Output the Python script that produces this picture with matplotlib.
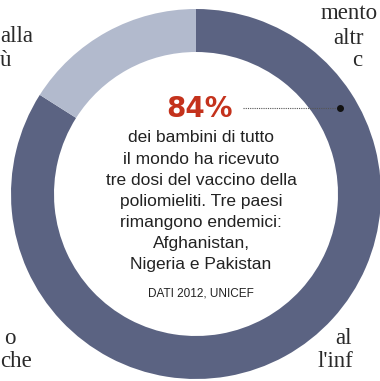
import matplotlib

matplotlib.use("Agg")
import matplotlib.pyplot as plt

# share of children with three polio vaccine doses (2012)
shares = [84, 16]
ring_colors = ["#5b6382", "#b2bacd"]
headline = "84%"
body_lines = [
    "dei bambini di tutto",
    "il mondo ha ricevuto",
    "tre dosi del vaccino della",
    "poliomieliti. Tre paesi",
    "rimangono endemici:",
    "Afghanistan,",
    "Nigeria e Pakistan",
]
source = "DATI 2012, UNICEF"

# fragments of the surrounding magazine column (x, baseline y in image pixels)
side_text = [
    ("alla", 0, 42),
    ("ù", 0, 66),
    ("mento", 321, 19),
    ("altr", 333, 44),
    ("c", 352, 66),
    ("o", 4, 344),
    ("che", 0, 367),
    ("al", 335, 344),
    ("l'inf", 318, 367),
]

W, H = 380, 381
fig = plt.figure(figsize=(W / 100, H / 100), dpi=100)
ax = fig.add_axes([0, 0, 1, 1])

cx, cy, r = 196, H - 194, 185
ax.pie(shares, colors=ring_colors, startangle=90, counterclock=False,
       center=(cx, cy), radius=r, wedgeprops=dict(width=43, linewidth=0))
ax.set_xlim(0, W)
ax.set_ylim(0, H)
ax.set_aspect("equal")
ax.axis("off")

sans = ["Liberation Sans", "DejaVu Sans"]
serif = ["Liberation Serif", "DejaVu Serif"]

ax.text(200, H - 109, headline, ha="center", va="center", fontsize=20,
        fontweight="bold", color="#c4321c", family=["DejaVu Sans"])
# dotted leader to the ring
ax.plot([243, 338], [H - 108, H - 108], ls=(0, (1, 1)), lw=0.8, color="#555555")
ax.plot(340, H - 108, "o", ms=4, color="#111111")

for i, line in enumerate(body_lines):
    ax.text(201, H - 138 - i * 21.1, line, ha="center", va="center",
            fontsize=12.5, color="#222222", family=sans)
ax.text(201, H - 293, source, ha="center", va="center", fontsize=8.5,
        color="#222222", family=sans)

for s, x, y in side_text:
    ax.text(x, H - y, s, ha="left", va="baseline", fontsize=16.5,
            color="#2a2a2a", family=serif)

fig.savefig("out.png", dpi=100)
